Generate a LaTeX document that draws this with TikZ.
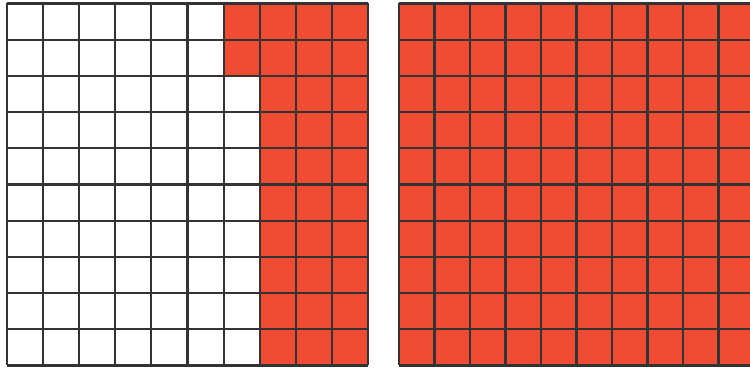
\documentclass[tikz,border=0pt]{standalone}
\usepackage{xcolor}
\usepackage{tikz}

\definecolor{squarered}{RGB}{240,76,52}

\begin{document}
\begin{tikzpicture}[x=0.025cm, y=0.025cm,
    gridline/.style={line width=1.5pt, draw=black!80}]
    % 0. Khung hình
    \useasboundingbox (0,0) rectangle (750,368);
    \clip (0,0) rectangle (750,368);

    % 1. Lưới bên trái: 32 ô tô màu
    \begin{scope}[shift={(7,2.5)}, xscale=36.1, yscale=36.2]
        \fill[squarered] (6,8) rectangle (10,10);
        \fill[squarered] (7,0) rectangle (10,8);
        \foreach \i in {0,...,10} {
            \draw[gridline] (\i,0) -- (\i,10);
            \draw[gridline] (0,\i) -- (10,\i);
        }
    \end{scope}

    % 2. Lưới bên phải: tô kín 100 ô
    \begin{scope}[shift={(399,2.5)}, xscale=35.5, yscale=36.2]
        \fill[squarered] (0,0) rectangle (10,10);
        \foreach \i in {0,...,10} {
            \draw[gridline] (\i,0) -- (\i,10);
            \draw[gridline] (0,\i) -- (10,\i);
        }
    \end{scope}
\end{tikzpicture}
\end{document}
